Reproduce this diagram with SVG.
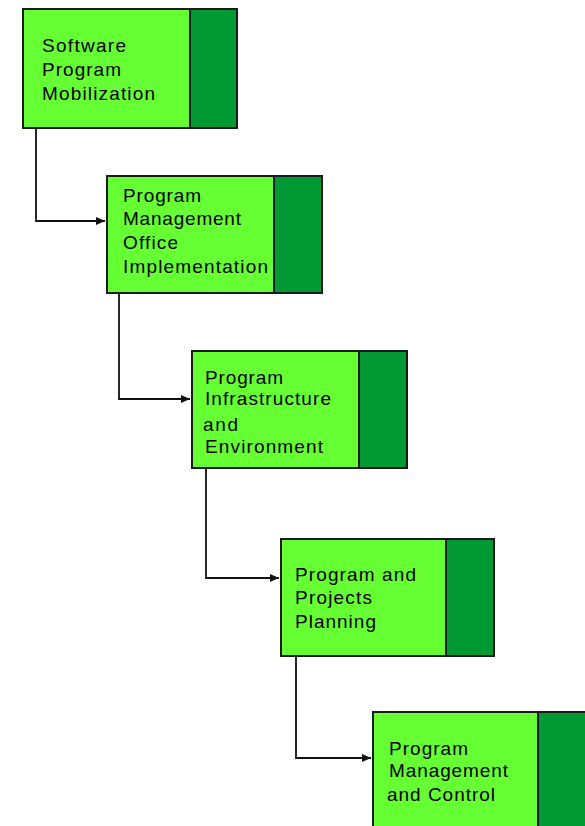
<svg xmlns="http://www.w3.org/2000/svg" width="585" height="826" viewBox="0 0 585 826">
  <style>
    .body { fill: #66ff33; stroke: #1a1a1a; stroke-width: 2; }
    .tab { fill: #009933; stroke: #1a1a1a; stroke-width: 2; }
    .label { font-family: "Liberation Sans", Arial, sans-serif; font-size: 19px; fill: #000; }
    .link { fill: none; stroke: #111; stroke-width: 1.8; }
  </style>
  <defs>
    <marker id="arrow" markerWidth="12" markerHeight="12" refX="10" refY="6" orient="auto" markerUnits="userSpaceOnUse">
      <path d="M1,2 L10,6 L1,10 Z" fill="#111"/>
    </marker>
  </defs>
  <rect width="585" height="826" fill="#fff"/>

  <g id="connectors">
    <path class="link" d="M36,129 V221 H105" marker-end="url(#arrow)"/>
    <path class="link" d="M119,293 V399 H190" marker-end="url(#arrow)"/>
    <path class="link" d="M206,468 V578 H279" marker-end="url(#arrow)"/>
    <path class="link" d="M296,656 V758 H371" marker-end="url(#arrow)"/>
  </g>

  <g id="node-mobilization">
    <rect class="body" x="23" y="9" width="167" height="119"/>
    <rect class="tab" x="190" y="9" width="47" height="119"/>
    <text class="label" x="42" y="52" textLength="84" lengthAdjust="spacing">Software</text>
    <text class="label" x="42" y="76" textLength="79" lengthAdjust="spacing">Program</text>
    <text class="label" x="42" y="100" textLength="113" lengthAdjust="spacing">Mobilization</text>
  </g>

  <g id="node-pmo">
    <rect class="body" x="107" y="176" width="167" height="117"/>
    <rect class="tab" x="274" y="176" width="48" height="117"/>
    <text class="label" x="123" y="202" textLength="78" lengthAdjust="spacing">Program</text>
    <text class="label" x="123" y="225" textLength="118" lengthAdjust="spacing">Management</text>
    <text class="label" x="123" y="249" textLength="55" lengthAdjust="spacing">Office</text>
    <text class="label" x="123" y="273" textLength="145" lengthAdjust="spacing">Implementation</text>
  </g>

  <g id="node-infrastructure">
    <rect class="body" x="192" y="351" width="167" height="117"/>
    <rect class="tab" x="359" y="351" width="48" height="117"/>
    <text class="label" x="205" y="384" textLength="78" lengthAdjust="spacing">Program</text>
    <text class="label" x="205" y="405" textLength="126" lengthAdjust="spacing">Infrastructure</text>
    <text class="label" x="203" y="431" textLength="35" lengthAdjust="spacing">and</text>
    <text class="label" x="205" y="453" textLength="118" lengthAdjust="spacing">Environment</text>
  </g>

  <g id="node-planning">
    <rect class="body" x="281" y="539" width="165" height="117"/>
    <rect class="tab" x="446" y="539" width="48" height="117"/>
    <text class="label" x="295" y="581" textLength="121" lengthAdjust="spacing">Program and</text>
    <text class="label" x="295" y="604" textLength="77" lengthAdjust="spacing">Projects</text>
    <text class="label" x="295" y="628" textLength="81" lengthAdjust="spacing">Planning</text>
  </g>

  <g id="node-control">
    <rect class="body" x="373" y="712" width="165" height="120"/>
    <rect class="tab" x="538" y="712" width="48" height="120"/>
    <text class="label" x="389" y="755" textLength="79" lengthAdjust="spacing">Program</text>
    <text class="label" x="389" y="777" textLength="119" lengthAdjust="spacing">Management</text>
    <text class="label" x="387" y="801" textLength="108" lengthAdjust="spacing">and Control</text>
  </g>
</svg>
